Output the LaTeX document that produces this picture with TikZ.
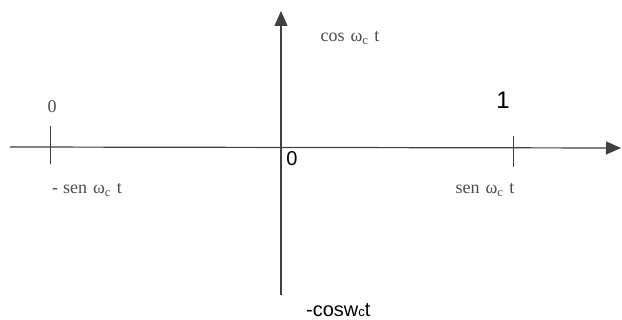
\documentclass[tikz,border=0pt]{standalone}
\usepackage{fontspec}
\setmainfont{Liberation Serif}
\newfontfamily\arialf{Liberation Sans}
\usetikzlibrary{arrows.meta}
\begin{document}
\begin{tikzpicture}[x=1pt,y=-1pt,
  axisline/.style={draw=black!75,line width=1.2pt,-{Triangle[length=15pt,width=13pt]}},
  tickline/.style={draw=black!75,line width=1pt},
  scanlbl/.style={text=black!70,font=\fontsize{18}{20}\selectfont,inner sep=0pt},
  sanslbl/.style={text=black,font=\arialf\fontsize{20}{22}\selectfont,inner sep=0pt}]
\useasboundingbox (0,0) rectangle (622,320);
\coordinate (hl) at (10,147);
\coordinate (hr) at (621,148);
\coordinate (vb) at (281,295);
\coordinate (vt) at (281,11);
\draw[axisline] (hl) -- (hr);
\draw[axisline] (vb) -- (vt);
\coordinate (t1a) at (50,126); \coordinate (t1b) at (50,164);
\coordinate (t2a) at (513,136); \coordinate (t2b) at (513,167);
\draw[tickline] (t1a) -- (t1b);
\draw[tickline] (t2a) -- (t2b);
\newcommand{\wc}{ω\textsubscript{c}}
\node[scanlbl] (zl) at (52,107) {0};
\node[scanlbl] (msen) at (87,190) {-\hspace{5pt}sen\hspace{6pt}\wc\hspace{6pt}t};
\node[scanlbl] (cosl) at (350,38) {cos\hspace{6pt}\wc\hspace{6pt}t};
\node[scanlbl] (sen) at (485,190) {sen\hspace{6pt}\wc\hspace{6pt}t};
\node[sanslbl,font=\arialf\fontsize{24}{26}\selectfont] (one) at (503,100) {1};
\node[sanslbl] (zo) at (292,159) {0};
\node[sanslbl,anchor=base west] (mcos) at (306,317) {-cosw{\fontsize{13}{14}\selectfont c}t};
\end{tikzpicture}
\end{document}
